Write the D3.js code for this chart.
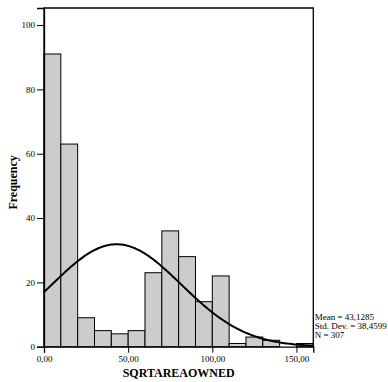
<!DOCTYPE html>
<html lang="en">
<head>
  <meta charset="UTF-8">
  <title>SQRTAREAOWNED histogram</title>
  <style>
    body { margin: 0; background: #fff; }
    text { font-family: "Liberation Serif", "Times New Roman", serif; }
  </style>
</head>
<body>
  <svg id="svg" width="388" height="382"></svg>

  <script src="https://d3js.org/d3.v7.min.js"></script>
  <script>
    // bins of width 10, counts
    const binStarts = [0, 10, 20, 30, 40, 50, 60, 70, 80, 90, 100, 110, 120, 130, 140, 150]
    const counts = [91, 63, 9, 5, 4, 5, 23, 36, 28, 14, 22, 1, 3, 2, 0, 1]
    const binWidth = 10
    const xTicks = [0, 50, 100, 150]
    const yTicks = [0, 20, 40, 60, 80, 100]
    const stats = { mean: 43.1285, sd: 38.4599, n: 307 }
    const statLines = ['Mean = 43,1285', 'Std. Dev. = 38,4599', 'N = 307']

    const margin = { top: 8, left: 44 }
    const width = 269.3
    const height = 338.7

    const svg = d3.select('#svg')
    const g = svg.append('g').attr('transform', `translate(${margin.left},${margin.top})`)

    const x = d3.scaleLinear().domain([0, 160]).range([0, width])
    const y = d3.scaleLinear().domain([0, 105.3]).range([height, 0])

    const fmt = d => d3.format('.2f')(d).replace('.', ',')

    // bars
    g.selectAll('rect.bar')
      .data(binStarts.map((s, i) => ({ s, c: counts[i] })).filter(d => d.c > 0))
      .join('rect')
      .attr('class', 'bar')
      .attr('x', d => x(d.s))
      .attr('width', d => x(d.s + binWidth) - x(d.s))
      .attr('y', d => y(d.c))
      .attr('height', d => y(0) - y(d.c))
      .attr('fill', '#cccccc')
      .attr('stroke', '#000')
      .attr('stroke-width', 1)

    // normal curve from the stated mean / sd / N
    const pdf = v => stats.n * binWidth / (stats.sd * Math.sqrt(2 * Math.PI)) *
      Math.exp(-0.5 * Math.pow((v - stats.mean) / stats.sd, 2))
    const line = d3.line().x(d => x(d)).y(d => y(pdf(d)))
    g.append('path')
      .datum(d3.range(0, 160.5, 1))
      .attr('d', line)
      .attr('fill', 'none')
      .attr('stroke', '#000')
      .attr('stroke-width', 2)

    // frame
    g.append('path')
      .attr('d', `M0,${height}V0H${width}V${height}`)
      .attr('fill', 'none')
      .attr('stroke', '#000')
      .attr('stroke-width', 1.3)

    // axes
    const xAxis = g.append('g')
      .attr('transform', `translate(0,${height})`)
      .call(d3.axisBottom(x).tickValues(xTicks).tickFormat(fmt).tickSizeOuter(0).tickSize(6).tickPadding(3))
    xAxis.select('.domain').attr('stroke-width', 1.3)
    xAxis.selectAll('text').attr('font-size', 9).attr('fill', '#000')

    const yAxis = g.append('g')
      .call(d3.axisLeft(y).tickValues(yTicks).tickSizeOuter(0).tickSize(7).tickPadding(2))
    yAxis.select('.domain').attr('stroke-width', 1.3)
    yAxis.selectAll('text').attr('font-size', 9).attr('fill', '#000')

    // axis titles
    svg.append('text')
      .attr('transform', `translate(17,${margin.top + height / 2 + 5}) rotate(-90)`)
      .attr('text-anchor', 'middle')
      .attr('font-size', 12)
      .attr('font-weight', 'bold')
      .text('Frequency')

    svg.append('text')
      .attr('x', margin.left + width / 2)
      .attr('y', 377)
      .attr('text-anchor', 'middle')
      .attr('font-size', 12)
      .attr('font-weight', 'bold')
      .text('SQRTAREAOWNED')

    // stats box
    svg.append('g')
      .selectAll('text')
      .data(statLines)
      .join('text')
      .attr('x', margin.left + width + 1.5)
      .attr('y', (d, i) => 320 + i * 9)
      .attr('font-size', 9)
      .text(d => d)
  </script>
</body>
</html>
